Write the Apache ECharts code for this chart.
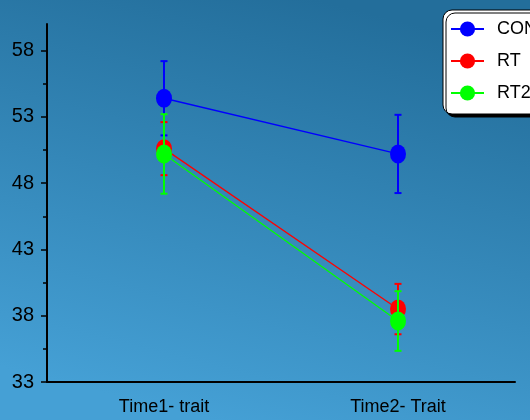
<!DOCTYPE html>
<html>
<head>
<meta charset="utf-8">
<script src="https://cdn.jsdelivr.net/npm/echarts@6/dist/echarts.min.js"></script>
<style>
html,body{margin:0;padding:0;background:#fff;}
#chart{width:530px;height:420px;}
</style>
</head>
<body>
<div id="chart"></div>
<script>
var categories = ['Time1- trait', 'Time2- Trait'];
var seriesNames = ['CON', 'RT', 'RT2'];
var seriesColors = ['#0000ff', '#ff0000', '#00ff00'];
var conMean = [54.4, 50.2];
var conErr = [2.8, 2.95];
var rtMean = [50.6, 38.5];
var rtErr = [2.0, 1.9];
var rt2Mean = [50.2, 37.6];
var rt2Err = [3.0, 2.25];
var yMajorTicks = [33, 38, 43, 48, 53, 58];
var yMinorTicks = [35.5, 40.5, 45.5, 50.5, 55.5];

var FONT = "'Liberation Sans Narrow', 'Liberation Sans', Arial, sans-serif";
var means = [conMean, rtMean, rt2Mean];
var errs = [conErr, rtErr, rt2Err];

function errData(m, e) {
  return m.map(function (v, i) { return [i, v - e[i], v + e[i]]; });
}

var series = [];
seriesNames.forEach(function (name, k) {
  var color = seriesColors[k];
  series.push({
    type: 'custom',
    name: name + '_err',
    z: 2 * k + 1,
    silent: true,
    data: errData(means[k], errs[k]),
    renderItem: function (params, api) {
      var x = api.value(0);
      var lo = api.coord([x, api.value(1)]);
      var hi = api.coord([x, api.value(2)]);
      var hw = 3.5;
      return {
        type: 'group',
        children: [
          { type: 'line', shape: { x1: lo[0], y1: lo[1], x2: hi[0], y2: hi[1] }, style: { stroke: color, lineWidth: 2 } },
          { type: 'line', shape: { x1: lo[0] - hw, y1: lo[1], x2: lo[0] + hw, y2: lo[1] }, style: { stroke: color, lineWidth: 2 } },
          { type: 'line', shape: { x1: hi[0] - hw, y1: hi[1], x2: hi[0] + hw, y2: hi[1] }, style: { stroke: color, lineWidth: 2 } }
        ]
      };
    }
  });
  series.push({
    type: 'line',
    name: name,
    z: 2 * k + 2,
    data: means[k],
    symbol: 'circle',
    symbolSize: [16, 19],
    itemStyle: { color: color },
    lineStyle: { color: color, width: 1.3 },
    emphasis: { disabled: true },
    animation: false
  });
});

var chart = echarts.init(document.getElementById('chart'), null, { renderer: 'canvas' });
chart.setOption({
  animation: false,
  backgroundColor: {
    type: 'linear', x: 0.4, y: 1, x2: 0.6, y2: 0,
    colorStops: [{ offset: 0, color: '#45a0d5' }, { offset: 1, color: '#236e9b' }]
  },
  grid: { left: 47, right: 15, top: 24, bottom: 38 },
  legend: {
    data: seriesNames,
    orient: 'vertical',
    left: 443, top: 10,
    padding: [10, 8, 12, 7],
    itemWidth: 33, itemHeight: 19, itemGap: 14,
    backgroundColor: '#ffffff',
    borderColor: '#000000', borderWidth: 1, borderRadius: 9,
    shadowColor: '#000000', shadowOffsetX: 3, shadowOffsetY: 3, shadowBlur: 0,
    textStyle: { color: '#000', fontSize: 18, fontFamily: FONT, padding: [0, 0, 0, 8] },
    selectedMode: false
  },
  xAxis: {
    type: 'category',
    data: categories,
    boundaryGap: true,
    axisLine: { lineStyle: { color: '#000', width: 2 } },
    axisTick: { alignWithLabel: true, length: 4, lineStyle: { color: '#000', width: 1.5 } },
    axisLabel: { color: '#000', fontSize: 18, fontFamily: FONT, margin: 16 },
    splitLine: { show: false }
  },
  yAxis: [{
    type: 'value',
    min: 33, max: 60,
    axisLine: { show: true, lineStyle: { color: '#000', width: 2 } },
    axisTick: { show: true, length: 6, customValues: yMajorTicks, lineStyle: { color: '#000', width: 1.5 } },
    axisLabel: { color: '#000', fontSize: 20, fontFamily: FONT, margin: 13, customValues: yMajorTicks },
    splitLine: { show: false }
  }, {
    type: 'value',
    min: 33, max: 60,
    position: 'left',
    offset: 0,
    axisLine: { show: false },
    axisTick: { show: true, length: 4, customValues: yMinorTicks, lineStyle: { color: '#000', width: 1.5 } },
    axisLabel: { show: false, customValues: yMinorTicks },
    splitLine: { show: false }
  }],
  series: series
});
</script>
</body>
</html>
